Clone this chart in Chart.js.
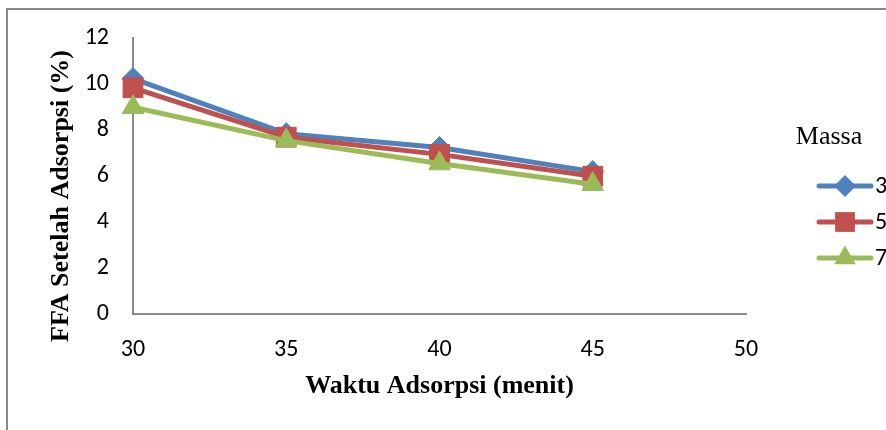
<!DOCTYPE html>
<html>
<head>
<meta charset="utf-8">
<script src="https://cdn.jsdelivr.net/npm/chart.js@4/dist/chart.umd.min.js"></script>
<style>
  html, body { margin: 0; padding: 0; background: #ffffff; }
  #wrap { width: 886px; height: 430px; position: relative; }
</style>
</head>
<body>
<div id="wrap"><canvas id="c" width="886" height="430"></canvas></div>
<script>
// Waktu adsorpsi (menit) on the x axis
const waktu = [30, 35, 40, 45];
// FFA setelah adsorpsi (%) for each adsorbent mass
const massa3 = [10.25, 7.85, 7.25, 6.2];
const massa5 = [9.85, 7.7, 6.95, 6.0];
const massa7 = [9.0, 7.55, 6.55, 5.65];
const seriesLabels = ['3', '5', '7'];
const xTicks = [30, 35, 40, 45, 50];
const yTicks = [0, 2, 4, 6, 8, 10, 12];

const BLUE = '#4F81BD', RED = '#C0504D', GREEN = '#9BBB59';
const AXIS = '#8a8a8a';
const TICK_FONT = { family: "Carlito, 'Liberation Sans', Arial, sans-serif", size: 24 };
const TITLE_FONT = { family: "'Liberation Serif', 'Times New Roman', serif", size: 26, weight: 'bold' };

function pts(vals) { return waktu.map((w, i) => ({ x: w, y: vals[i] })); }

function mark(ctx, style, x, y, r) {
  ctx.beginPath();
  if (style === 'rectRot') {
    ctx.moveTo(x - r, y); ctx.lineTo(x, y - r); ctx.lineTo(x + r, y); ctx.lineTo(x, y + r);
  } else if (style === 'rect') {
    const s = Math.SQRT1_2 * r;
    ctx.rect(x - s, y - s, 2 * s, 2 * s);
  } else {
    const h = Math.sin(Math.PI / 3) * r;
    ctx.moveTo(x, y - r); ctx.lineTo(x + h, y + r / 2); ctx.lineTo(x - h, y + r / 2);
  }
  ctx.closePath();
  ctx.fill();
}

// Document frame, y axis title and the "Massa" legend
const decor = {
  id: 'decor',
  beforeDraw(chart) {
    const ctx = chart.ctx;
    ctx.save();
    ctx.strokeStyle = AXIS;
    ctx.lineWidth = 2;
    ctx.beginPath();
    ctx.moveTo(7, 431); ctx.lineTo(7, 9); ctx.lineTo(887, 9);
    ctx.stroke();
    ctx.restore();
  },
  afterDraw(chart) {
    const ctx = chart.ctx;
    ctx.save();
    // y axis title
    ctx.font = 'bold 26px "Liberation Serif", "Times New Roman", serif';
    ctx.fillStyle = '#000';
    ctx.textAlign = 'center';
    ctx.textBaseline = 'middle';
    ctx.translate(61, 196);
    ctx.rotate(-Math.PI / 2);
    ctx.fillText('FFA Setelah Adsorpsi (%)', 0, 0);
    ctx.restore();

    ctx.save();
    ctx.font = '26px "Liberation Serif", "Times New Roman", serif';
    ctx.fillStyle = '#000';
    ctx.textAlign = 'center';
    ctx.textBaseline = 'middle';
    ctx.fillText('Massa', 829, 137);
    const rows = [186, 222, 258];
    chart.data.datasets.forEach((ds, i) => {
      const y = rows[i];
      ctx.strokeStyle = ds.borderColor;
      ctx.lineWidth = 5;
      ctx.lineCap = 'round';
      ctx.beginPath();
      ctx.moveTo(819, y); ctx.lineTo(871, y);
      ctx.stroke();
      ctx.fillStyle = ds.backgroundColor;
      mark(ctx, ds.pointStyle, 845, y, ds.pointRadius);
      ctx.fillStyle = '#000';
      ctx.textAlign = 'left';
      ctx.font = "24px Carlito, 'Liberation Sans', Arial, sans-serif";
      ctx.fillText(ds.label, 875, y + 1);
    });
    ctx.restore();
  }
};

function series(label, vals, color, style, radius, order) {
  return {
    label, data: pts(vals),
    borderColor: color, backgroundColor: color,
    borderWidth: 5, borderJoinStyle: 'round', borderCapStyle: 'round',
    pointStyle: style, pointRadius: radius, pointHoverRadius: radius,
    pointBorderWidth: 1, pointBorderColor: color, pointBackgroundColor: color,
    tension: 0, clip: false, order
  };
}

new Chart(document.getElementById('c'), {
  type: 'line',
  data: {
    datasets: [
      series(seriesLabels[0], massa3, BLUE, 'rectRot', 11, 2),
      series(seriesLabels[1], massa5, RED, 'rect', 14, 1),
      series(seriesLabels[2], massa7, GREEN, 'triangle', 12.5, 0)
    ]
  },
  options: {
    responsive: false,
    devicePixelRatio: 1,
    animation: false,
    layout: { padding: { left: 0, top: 37, right: 140, bottom: 0 } },
    plugins: { legend: { display: false }, tooltip: { enabled: false } },
    scales: {
      x: {
        type: 'linear', min: 30, max: 50,
        afterBuildTicks(s) { s.ticks = xTicks.map(v => ({ value: v })); },
        afterFit(s) { s.height = 116; },
        grid: { display: false, drawTicks: false },
        border: { display: true, color: AXIS, width: 2 },
        ticks: { color: '#000', font: TICK_FONT, padding: 22, maxRotation: 0, autoSkip: false },
        title: { display: true, text: 'Waktu Adsorpsi (menit)', color: '#000', font: TITLE_FONT, padding: { top: 0, bottom: 28 } }
      },
      y: {
        min: 0, max: 12,
        afterBuildTicks(s) { s.ticks = yTicks.map(v => ({ value: v })); },
        afterFit(s) { s.width = 133; },
        grid: { display: false, drawTicks: false },
        border: { display: true, color: AXIS, width: 2 },
        ticks: { color: '#000', font: TICK_FONT, padding: 24 }
      }
    }
  },
  plugins: [decor]
});
</script>
</body>
</html>
